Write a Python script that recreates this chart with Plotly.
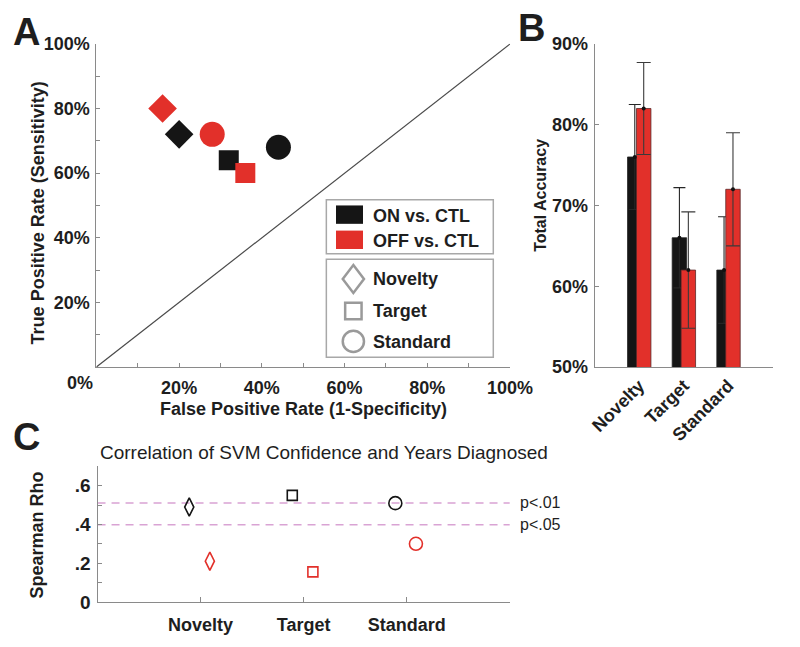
import plotly.graph_objects as go

W, H = 800, 647
FONT = "Liberation Sans, Arial, sans-serif"
BLACK = "#151515"
RED = "#e2302a"
AXIS = "#8a8a8a"
TXT = "#1e1e1e"

# ---------------- data ----------------
conditions = ["Novelty", "Target", "Standard"]

# Panel A: ROC space (percent)
fpr_on = [20, 32, 44]
tpr_on = [72, 64, 68]
fpr_off = [16, 36, 28]
tpr_off = [80, 60, 72]
chance = [0, 100]

# Panel B: total accuracy (percent) with error
acc_on = [76, 66, 62]
acc_off = [82, 62, 72]
err_on = [6.5, 6.2, 6.6]
err_off = [5.7, 7.2, 7.0]

# Panel C: Spearman rho
rho_on = [0.49, 0.55, 0.51]
rho_off = [0.21, 0.155, 0.30]
crit_vals = [0.511, 0.398]
crit_labels = ["p<.01", "p<.05"]

pct_ticks = list(range(0, 101, 10))
acc_ticks = [50, 60, 70, 80, 90]
rho_ticks = [0, 0.1, 0.2, 0.3, 0.4, 0.5, 0.6, 0.7]
rho_labels = ["0", "", ".2", "", ".4", "", ".6", ""]

# ---------------- helpers ----------------
def px(x):
    return x / W

def py(y):
    return 1 - y / H

sym_a = ["diamond", "square", "circle"]
size_a = [22, 20, 25]
sym_c = ["diamond-tall-open", "square-open", "circle-open"]
size_c = [13, 10, 13]

fig = go.Figure()

# ---------------- Panel A ----------------
fig.add_trace(go.Scatter(x=chance, y=chance, mode="lines",
                         line=dict(color="#4a4a4a", width=1.2),
                         xaxis="x", yaxis="y", hoverinfo="skip", showlegend=False))
fig.add_trace(go.Scatter(x=fpr_on, y=tpr_on, mode="markers",
                         marker=dict(symbol=sym_a, size=size_a, color=BLACK, opacity=1, line=dict(width=0)),
                         xaxis="x", yaxis="y", showlegend=False))
fig.add_trace(go.Scatter(x=fpr_off, y=tpr_off, mode="markers",
                         marker=dict(symbol=sym_a, size=size_a, color=RED, opacity=1, line=dict(width=0)),
                         xaxis="x", yaxis="y", showlegend=False))

# ---------------- Panel B ----------------
bw = 0.324
sep = 0.1
fig.add_trace(go.Bar(x=conditions, y=acc_on, width=bw, offset=-sep - bw / 2,
                     marker=dict(color=BLACK, line=dict(color="#222", width=0.8)),
                     error_y=dict(type="data", array=err_on, color="#262626", thickness=1.1, width=6),
                     xaxis="x2", yaxis="y2", showlegend=False))
fig.add_trace(go.Bar(x=conditions, y=acc_off, width=bw, offset=sep - bw / 2,
                     marker=dict(color=RED, line=dict(color="#5a2a2a", width=0.8)),
                     error_y=dict(type="data", array=err_off, color="#3a3a3a", thickness=1.1, width=7),
                     xaxis="x2", yaxis="y2", showlegend=False))
# mean dots at the top of each bar (on an overlaid numeric axis)
grp = list(range(len(conditions)))
fig.add_trace(go.Scatter(x=[g - sep for g in grp], y=acc_on, mode="markers",
                         marker=dict(size=4, color="#111", opacity=1),
                         xaxis="x4", yaxis="y2", showlegend=False, hoverinfo="skip"))
fig.add_trace(go.Scatter(x=[g + sep for g in grp], y=acc_off, mode="markers",
                         marker=dict(size=4, color="#111", opacity=1),
                         xaxis="x4", yaxis="y2", showlegend=False, hoverinfo="skip"))

# ---------------- Panel C ----------------
idx = list(range(1, len(conditions) + 1))
fig.add_trace(go.Scatter(x=[i - 0.11 for i in idx], y=rho_on, mode="markers",
                         marker=dict(symbol=sym_c, size=size_c, color=BLACK, opacity=1,
                                     line=dict(width=1.6, color="#222")),
                         xaxis="x3", yaxis="y3", showlegend=False))
fig.add_trace(go.Scatter(x=[i + 0.09 for i in idx], y=rho_off, mode="markers",
                         marker=dict(symbol=sym_c, size=size_c, color=RED, opacity=1,
                                     line=dict(width=1.6, color=RED)),
                         xaxis="x3", yaxis="y3", showlegend=False))

# ---------------- axes ----------------
tickfont = dict(family=FONT, size=18, color=TXT, weight="bold")
common = dict(showgrid=False, zeroline=False, showline=True, linecolor=AXIS, linewidth=1.2,
              ticks="inside", ticklen=4, tickcolor=AXIS, tickwidth=1.2, tickfont=tickfont)

def pct_text(vals, skip0=True):
    out = []
    for v in vals:
        if v % 20 == 0 and not (skip0 and v == 0):
            out.append(f"{v}%")
        else:
            out.append("")
    return out

fig.update_layout(
    xaxis=dict(domain=[px(94.7), px(523.4)], range=[0, 100], tickvals=pct_ticks,
               ticktext=pct_text(pct_ticks), anchor="y", ticklabelstandoff=4, **common),
    yaxis=dict(domain=[py(369), py(35)], range=[0, 100], tickvals=pct_ticks,
               ticktext=pct_text(pct_ticks), anchor="x", ticklabelstandoff=2, **common),
    xaxis2=dict(domain=[px(611), px(796)], range=[-1, 3], anchor="y2", tickangle=-45,
                **{**common, "ticks": ""}),
    xaxis4=dict(overlaying="x2", range=[-1, 3], visible=False, anchor="y2"),
    yaxis2=dict(domain=[py(369), py(35)], range=[50, 90], tickvals=acc_ticks,
                ticktext=[f"{v}%" for v in acc_ticks], anchor="x2", ticklabelstandoff=2, **common),
    xaxis3=dict(domain=[px(95.9), px(523)], range=[0, 4], tickvals=idx, ticktext=conditions,
                anchor="y3", ticklabelstandoff=6, **{**common, "ticklen": 5}),
    yaxis3=dict(domain=[py(611.7), py(471.7)], range=[0, 0.7], tickvals=rho_ticks,
                ticktext=rho_labels, anchor="x3", ticklabelstandoff=2,
                **{**common, "tickfont": dict(family=FONT, size=19, color=TXT, weight="bold")}),
    barmode="overlay",
    width=W, height=H, autosize=False,
    margin=dict(l=0, r=0, t=0, b=0),
    paper_bgcolor="white", plot_bgcolor="white",
    showlegend=False,
)

# dashed significance lines
shapes = []
for v in crit_vals:
    shapes.append(dict(type="line", xref="x3 domain", yref="y3", x0=0, x1=1, y0=v, y1=v,
                       line=dict(color="#d9a3d4", width=1.5, dash="8px,6px"), layer="below"))

# legend (drawn as in the figure: two framed boxes)
LG = "#a8a8a8"
shapes.append(dict(type="rect", xref="paper", yref="paper", x0=px(333), x1=px(506), y0=py(252), y1=py(196),
                   line=dict(color=LG, width=1.5), fillcolor="white"))
shapes.append(dict(type="rect", xref="paper", yref="paper", x0=px(333), x1=px(506), y0=py(359), y1=py(257.5),
                   line=dict(color=LG, width=1.5), fillcolor="white"))
shapes.append(dict(type="rect", xref="paper", yref="paper", x0=px(343), x1=px(371), y0=py(221), y1=py(202),
                   line=dict(width=0), fillcolor=BLACK))
shapes.append(dict(type="rect", xref="paper", yref="paper", x0=px(343), x1=px(371), y0=py(247), y1=py(228),
                   line=dict(width=0), fillcolor=RED))
GL = "#9a9a9a"
cx = 361
shapes.append(dict(type="path", xref="paper", yref="paper",
                   path=f"M {px(cx)},{py(263.5)} L {px(cx+11)},{py(278)} L {px(cx)},{py(292.5)} L {px(cx-11)},{py(278)} Z",
                   line=dict(color=GL, width=2.5), fillcolor="white"))
shapes.append(dict(type="rect", xref="paper", yref="paper", x0=px(cx-8.5), x1=px(cx+8.5), y0=py(319.5), y1=py(302.5),
                   line=dict(color=GL, width=2.5), fillcolor="white"))
shapes.append(dict(type="circle", xref="paper", yref="paper", x0=px(cx-11), x1=px(cx+11), y0=py(353.5), y1=py(331.5),
                   line=dict(color=GL, width=2.5), fillcolor="white"))

ann = []
def text(t, x, y, size=18, bold=True, angle=0, xanchor="center", yanchor="middle", color=TXT):
    ann.append(dict(text=t, x=px(x), y=py(y), xref="paper", yref="paper", showarrow=False,
                    xanchor=xanchor, yanchor=yanchor, textangle=angle,
                    font=dict(family=FONT, size=size, color=color, weight="bold" if bold else "normal")))

for t, y in [("ON vs. CTL", 213), ("OFF vs. CTL", 238.5)]:
    text(t, 379, y, xanchor="left")
for t, y in [("Novelty", 278), ("Target", 311), ("Standard", 343)]:
    text(t, 379, y, xanchor="left")

text("0%", 77.8, 385)
text("True Positive Rate (Sensitivity)", 34.4, 210, angle=-90)
text("False Positive Rate (1-Specificity)", 309, 412)
text("Total Accuracy", 555, 191.5, size=16, angle=-90)
text("Spearman Rho", 33.3, 543, angle=-90)
text("Correlation of SVM Confidence and Years Diagnosed", 331, 457, size=19, bold=False)
text("A", 22, 23, size=38)
text("B", 546, 19, size=38)
text("C", 22, 441, size=38)

for v, lab in zip(crit_vals, crit_labels):
    ann.append(dict(text=lab, x=1.02, y=v, xref="x3 domain", yref="y3", showarrow=False,
                    xanchor="left", yanchor="middle",
                    font=dict(family=FONT, size=16, color=TXT)))

fig.update_layout(shapes=shapes, annotations=ann)
fig.write_html("out.html", config={"displayModeBar": False},
               post_script="document.body.style.margin='0';document.body.style.overflow='hidden';")
